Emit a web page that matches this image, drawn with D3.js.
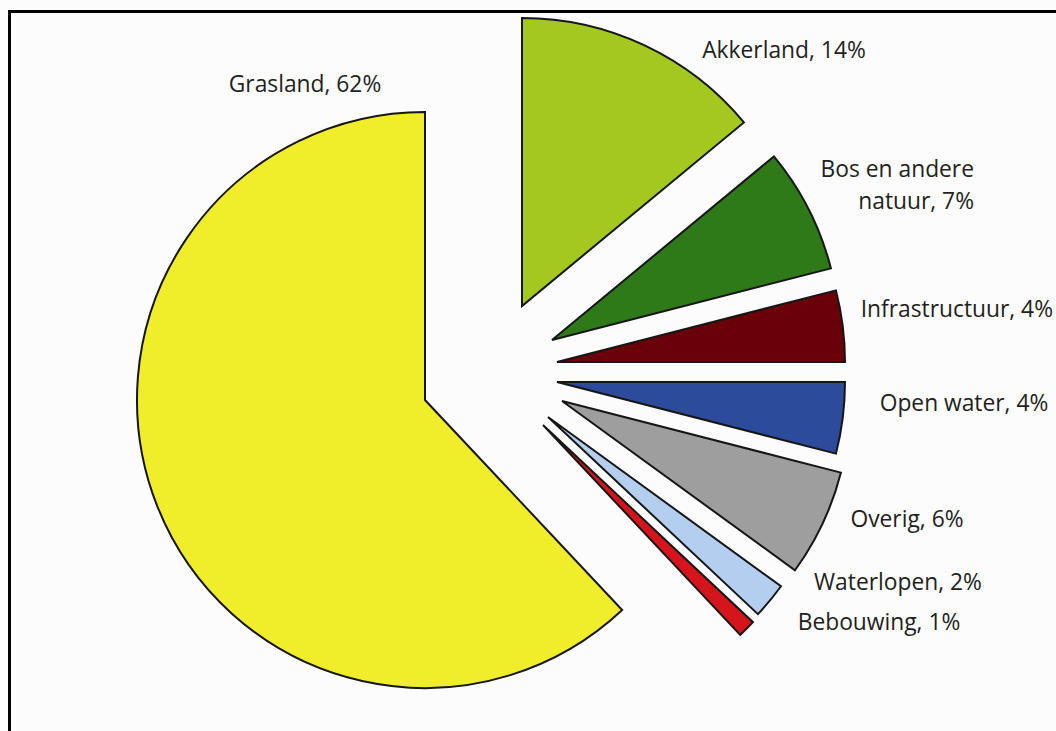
<!DOCTYPE html>
<html>
<head>
<meta charset="utf-8">
<script src="https://cdn.jsdelivr.net/npm/d3@7"></script>
<style>
  html, body { margin: 0; padding: 0; background: #fcfcfc; }
  svg { display: block; }
  text { font-family: "Open Sans", "Noto Sans", sans-serif; fill: #231f20; }
</style>
</head>
<body>
<svg id="chart" width="1056" height="731"></svg>
<script>
// Land use shares (percent), clockwise from 12 o'clock
const categories = ["Akkerland", "Bos en andere natuur", "Infrastructuur", "Open water",
                    "Overig", "Waterlopen", "Bebouwing", "Grasland"];
const shares = [14, 7, 4, 4, 6, 2, 1, 62];
// Label lines shown next to each slice
const labelLines = [
  ["Akkerland, 14%"],
  ["Bos en andere", "natuur, 7%"],
  ["Infrastructuur, 4%"],
  ["Open water, 4%"],
  ["Overig, 6%"],
  ["Waterlopen, 2%"],
  ["Bebouwing, 1%"],
  ["Grasland, 62%"]
];

// Styling and layout
const colors = ["#a3c81f", "#2e7a18", "#6a0008", "#2c4b9b",
                "#9e9e9e", "#b4cef0", "#d6141b", "#f0ee2a"];
// slice displacement from the pie centre (explode)
const explode = [[97, -94], [127, -60], [132, -38], [132, -18],
                 [137, 1], [123, 17], [118, 25], [0, 0]];
// label anchor: x, first baseline, text-anchor
const labelPos = [
  [784, 58, "middle"], [974, 177, "end"], [1053, 317, "end"], [964, 411, "middle"],
  [907, 527, "middle"], [898, 590, "middle"], [879, 630, "middle"], [305, 92, "middle"]
];

const svg = d3.select("#chart");
const cx = 425, cy = 400, radius = 288;

// frame
svg.append("rect")
  .attr("x", 9.5).attr("y", 11.5)
  .attr("width", 1100).attr("height", 800)
  .attr("fill", "#fcfcfc")
  .attr("stroke", "#000").attr("stroke-width", 3);

const pie = d3.pie().sort(null).value(d => d)(shares);
const arc = d3.arc().innerRadius(0).outerRadius(radius);

const g = svg.append("g").attr("transform", `translate(${cx},${cy})`);

g.selectAll("path.slice")
  .data(pie)
  .join("path")
  .attr("class", "slice")
  .attr("transform", (d, i) => `translate(${explode[i][0]},${explode[i][1]})`)
  .attr("d", arc)
  .attr("fill", (d, i) => colors[i])
  .attr("stroke", "#161616")
  .attr("stroke-width", 2)
  .attr("stroke-linejoin", "miter");

const labels = svg.append("g");
categories.forEach((c, i) => {
  const [x, y, anchor] = labelPos[i];
  const t = labels.append("text")
    .attr("x", x).attr("y", y)
    .attr("text-anchor", anchor)
    .attr("font-size", 22.8);
  labelLines[i].forEach((line, k) => {
    t.append("tspan").attr("x", x).attr("dy", k === 0 ? 0 : 31.5).text(line);
  });
});
</script>
</body>
</html>
